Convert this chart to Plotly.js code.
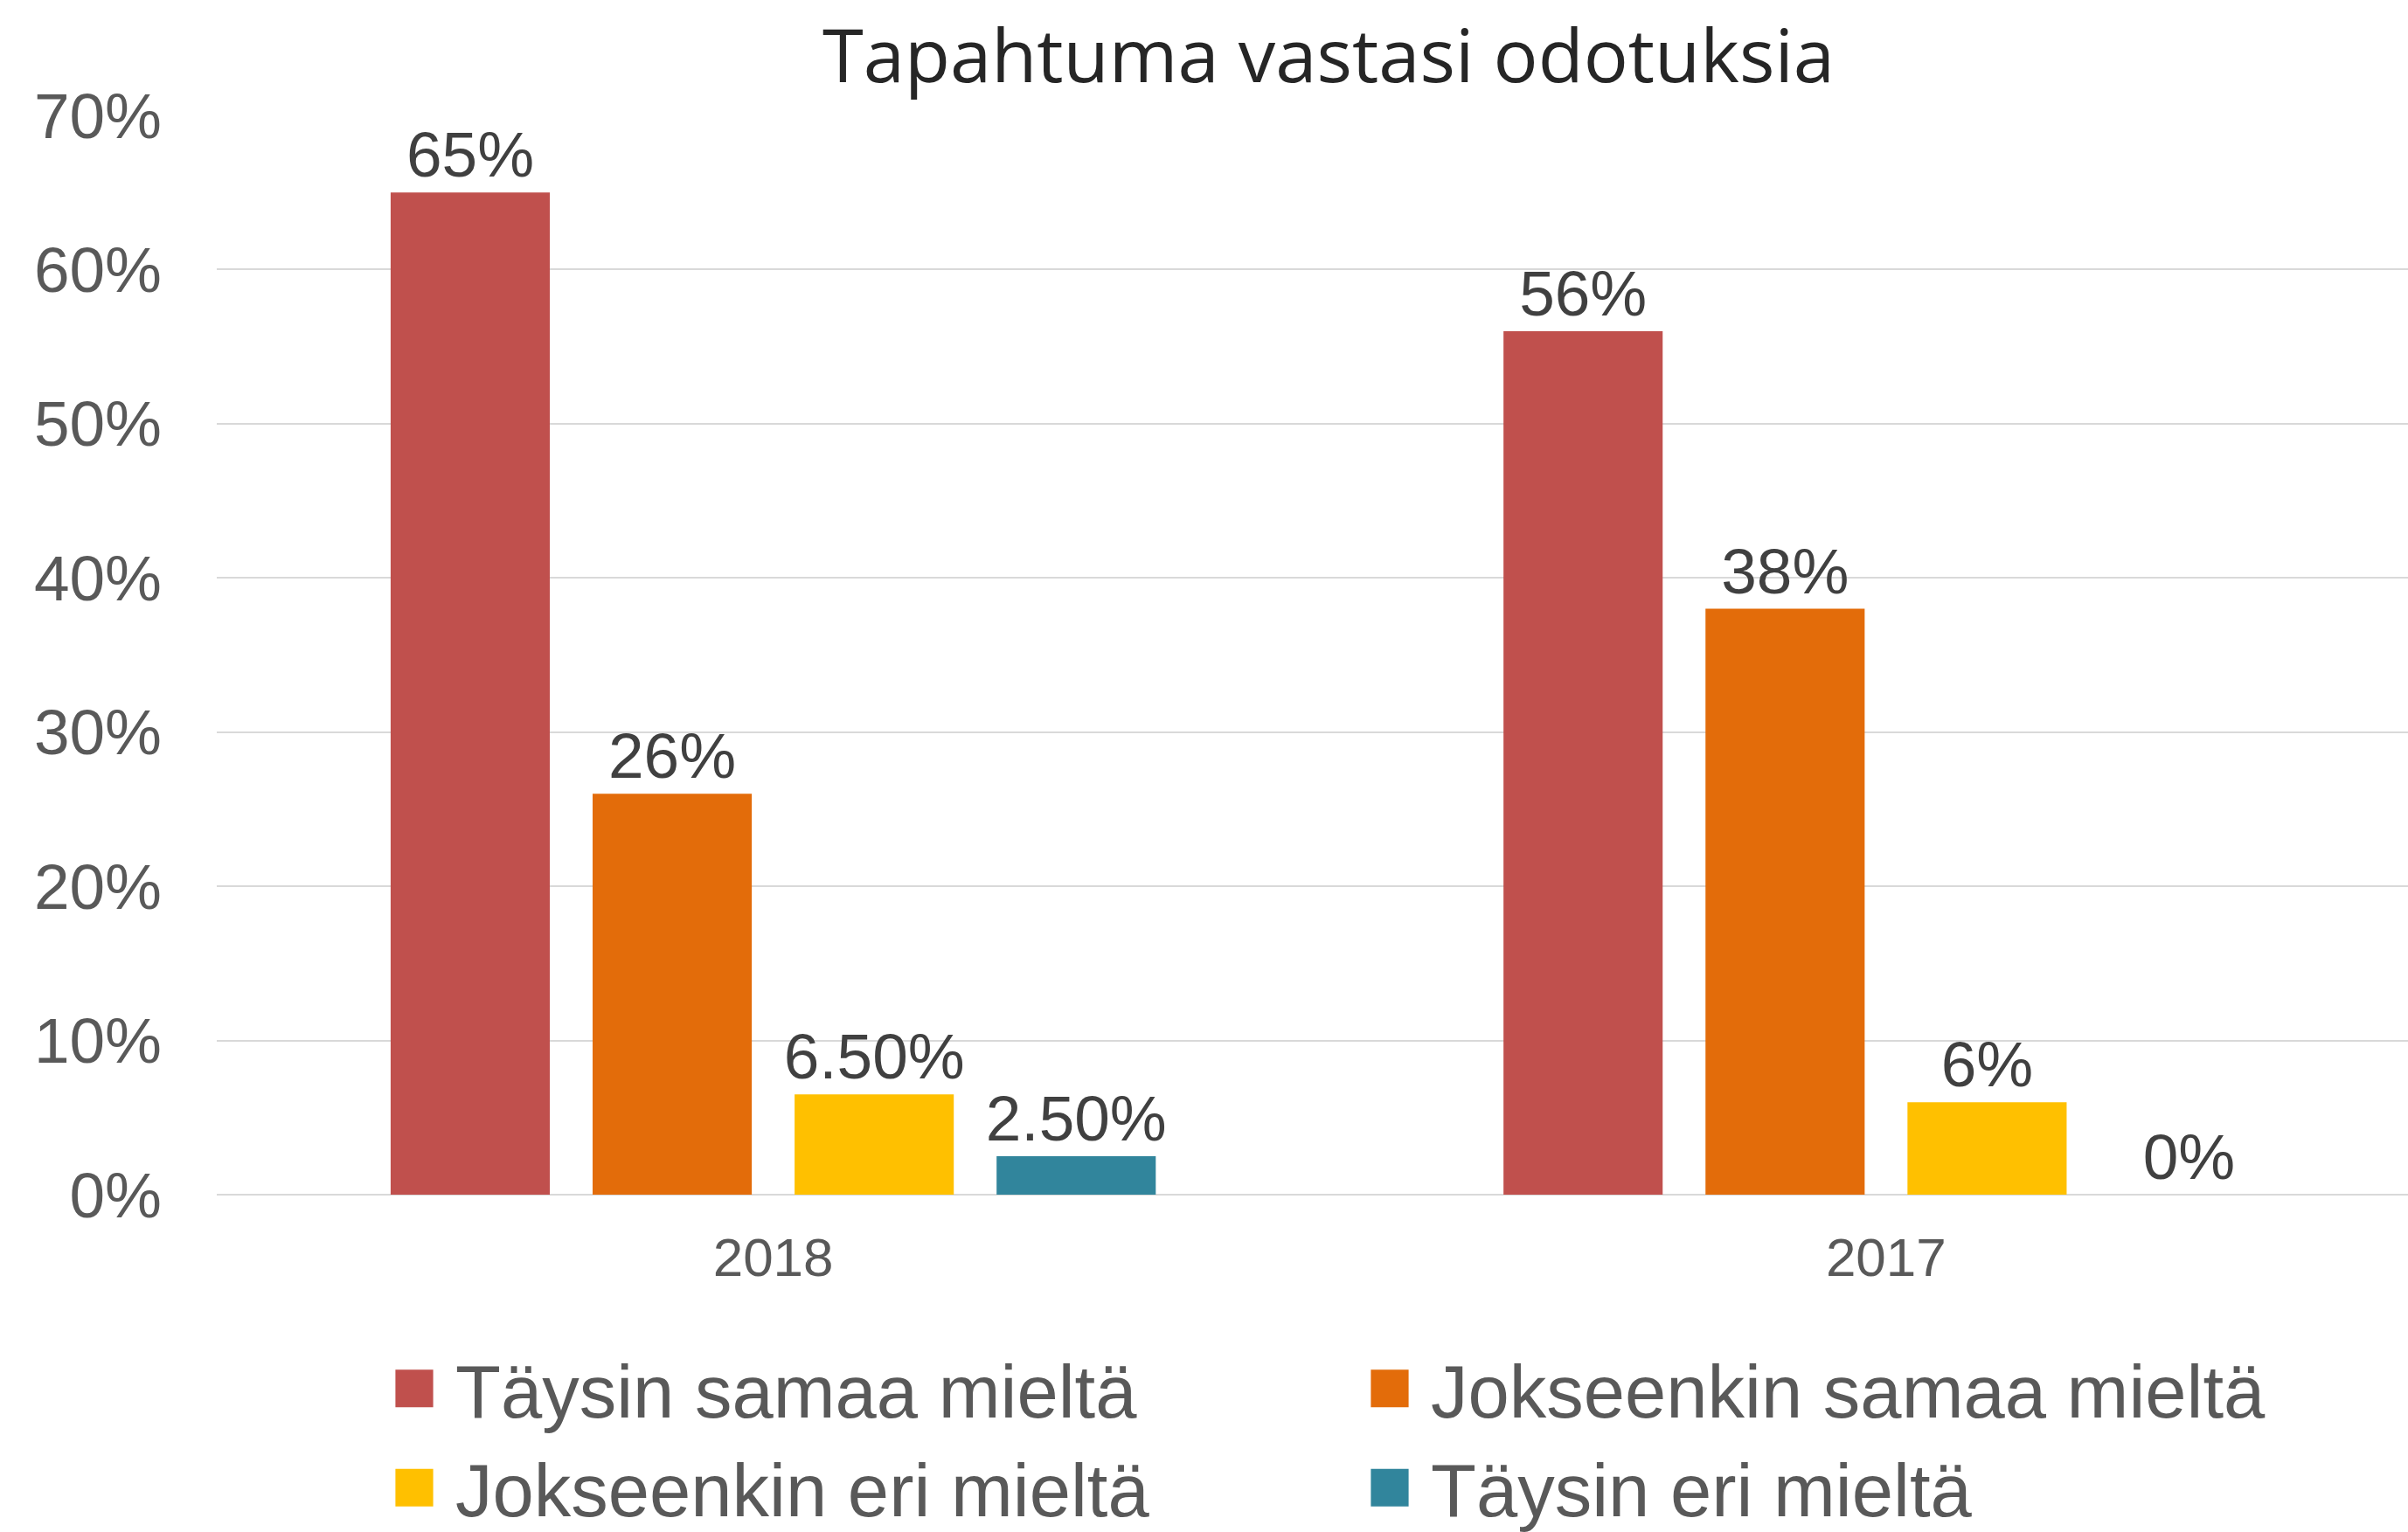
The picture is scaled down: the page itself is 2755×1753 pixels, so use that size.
<!DOCTYPE html>
<html>
<head>
<meta charset="utf-8">
<script src="https://cdn.plot.ly/plotly-3.0.1.min.js"></script>
<style>html,body{margin:0;padding:0;background:#fff;}#chart{width:2755px;height:1753px;}</style>
</head>
<body>
<div id="chart"></div>
<script>
// ---- data ----
var categories = ['2018', '2017'];
var seriesNames = ['Täysin samaa mieltä', 'Jokseenkin samaa mieltä', 'Jokseenkin eri mieltä', 'Täysin eri mieltä'];
var taysinSamaa = [65, 56];
var jokseenkinSamaa = [26, 38];
var jokseenkinEri = [6.5, 6];
var taysinEri = [2.5, 0];
var labelsTaysinSamaa = ['65%', '56%'];
var labelsJokseenkinSamaa = ['26%', '38%'];
var labelsJokseenkinEri = ['6.50%', '6%'];
var labelsTaysinEri = ['2.50%', '0%'];
var yTickValues = [0, 10, 20, 30, 40, 50, 60, 70];
var yTickLabels = ['0%', '10%', '20%', '30%', '40%', '50%', '60%', '70%'];
var titleText = 'Tapahtuma vastasi odotuksia';

var colors = ['#C0504D', '#E36C0A', '#FFC000', '#31859C'];
var values = [taysinSamaa, jokseenkinSamaa, jokseenkinEri, taysinEri];
var labels = [labelsTaysinSamaa, labelsJokseenkinSamaa, labelsJokseenkinEri, labelsTaysinEri];

var traces = seriesNames.map(function (name, i) {
  return {
    type: 'bar',
    name: name,
    x: categories,
    y: values[i],
    text: labels[i],
    textposition: 'outside',
    texttemplate: '%{text}',
    constraintext: 'none',
    cliponaxis: false,
    textfont: {family: 'Liberation Sans, Arial, sans-serif', size: 73, color: '#404040'},
    marker: {color: colors[i]},
    hoverinfo: 'skip'
  };
});

var layout = {
  width: 2755,
  height: 1753,
  margin: {l: 248, r: 0, t: 132, b: 386, pad: 0, autoexpand: false},
  paper_bgcolor: '#ffffff',
  plot_bgcolor: '#ffffff',
  barmode: 'group',
  bargap: 0.274,
  bargroupgap: 0.212,
  title: {
    text: titleText,
    font: {family: 'Open Sans, Noto Sans, sans-serif', size: 85, color: '#262626'},
    xref: 'container',
    x: 1520 / 2755,
    xanchor: 'center',
    yref: 'container',
    y: 1 - 64 / 1753,
    yanchor: 'middle'
  },
  xaxis: {
    type: 'category',
    range: [-0.5, 1.469],
    showgrid: false,
    showline: false,
    zeroline: false,
    ticks: '',
    ticklabelstandoff: 30,
    tickfont: {family: 'Liberation Sans, Arial, sans-serif', size: 62, color: '#595959'},
    fixedrange: true
  },
  yaxis: {
    range: [0, 70],
    tickmode: 'array',
    tickvals: yTickValues,
    ticktext: yTickLabels,
    showgrid: true,
    gridcolor: '#D9D9D9',
    gridwidth: 2,
    zeroline: true,
    zerolinecolor: '#D9D9D9',
    zerolinewidth: 2,
    showline: false,
    ticks: '',
    ticklabelstandoff: 62,
    tickfont: {family: 'Liberation Sans, Arial, sans-serif', size: 73, color: '#595959'},
    fixedrange: true
  },
  showlegend: true,
  legend: {
    orientation: 'h',
    xref: 'container',
    yref: 'container',
    x: 431 / 2755,
    xanchor: 'left',
    y: 1 - 1527 / 1753,
    yanchor: 'top',
    itemwidth: 80,
    entrywidth: 1021,
    entrywidthmode: 'pixels',
    traceorder: 'normal',
    font: {family: 'Liberation Sans, Arial, sans-serif', size: 85, color: '#595959'},
    bgcolor: 'rgba(0,0,0,0)'
  }
};

function enlargeLegendSymbols(gd) {
  gd.querySelectorAll('.legend .traces').forEach(function (tr) {
    var t = tr.querySelector('.legendtext');
    if (!t) return;
    var x = parseFloat(t.getAttribute('x'));
    if (isNaN(x)) x = 90;
    tr.querySelectorAll('.legendpoints path').forEach(function (p) {
      p.setAttribute('transform', 'translate(' + (x - 47) + ',0) scale(3.6)');
    });
  });
}

Plotly.newPlot('chart', traces, layout, {displayModeBar: false, staticPlot: true}).then(function (gd) {
  enlargeLegendSymbols(gd);
  gd.on('plotly_afterplot', function () { enlargeLegendSymbols(gd); });
});
</script>
</body>
</html>
